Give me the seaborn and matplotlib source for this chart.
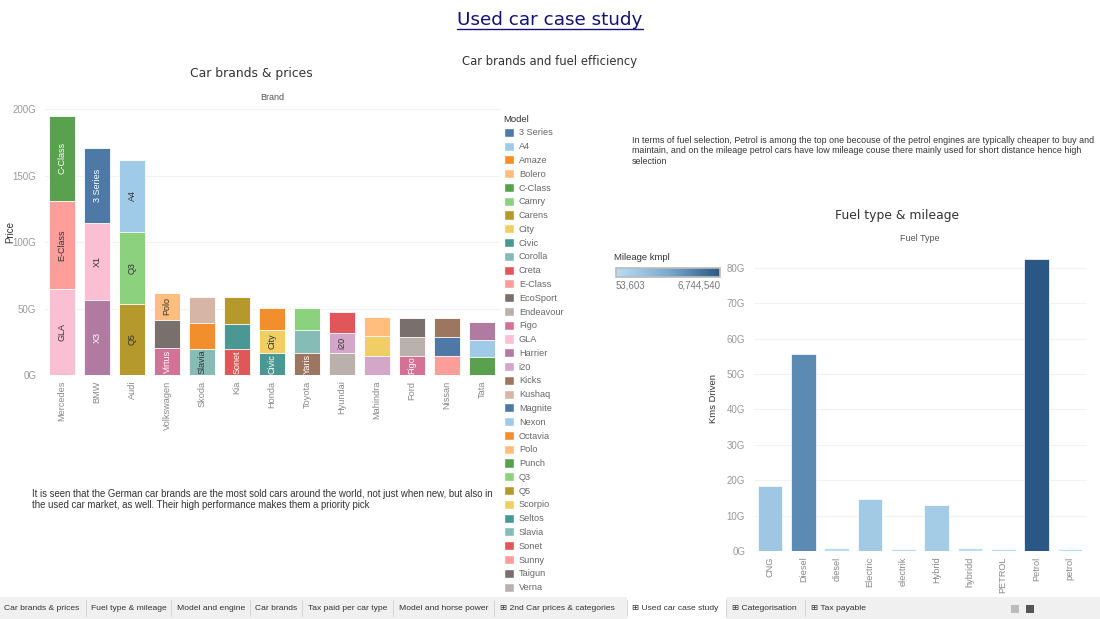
import numpy as np
import pandas as pd
import matplotlib
matplotlib.use("Agg")
import matplotlib.pyplot as plt
import seaborn as sns
from matplotlib.patches import Patch, Rectangle
from matplotlib.lines import Line2D
from matplotlib.colors import LinearSegmentedColormap, Normalize, to_rgb
from matplotlib.colorbar import ColorbarBase

# ---- datos: marcas y precios (en G) ----
brands = ["Mercedes", "BMW", "Audi", "Volkswagen", "Skoda", "Kia", "Honda",
          "Toyota", "Hyundai", "Mahindra", "Ford", "Nissan", "Tata"]
model_bottom = ["GLA", "X3", "Q5", "Virtus", "Slavia", "Sonet", "Civic",
                "Yaris", "Verna", "XUV700", "Figo", "Sunny", "Punch"]
price_bottom = [64.7, 56.6, 53.4, 20.6, 19.5, 19.3, 16.8, 16.8, 16.8, 14.5, 14.5, 14.5, 13.3]
model_middle = ["E-Class", "X1", "Q3", "Taigun", "Octavia", "Seltos", "City",
                "Corolla", "i20", "Scorpio", "Endeavour", "Magnite", "Nexon"]
price_middle = [66.1, 57.4, 54.4, 20.8, 19.3, 19.0, 17.0, 17.0, 15.0, 14.8, 14.3, 14.3, 13.0]
model_top = ["C-Class", "3 Series", "A4", "Polo", "Kushaq", "Carens", "Amaze",
             "Camry", "Creta", "Bolero", "EcoSport", "Kicks", "Harrier"]
price_top = [64.2, 57.0, 53.9, 20.5, 19.6, 20.1, 16.8, 16.3, 15.3, 14.1, 14.3, 14.3, 13.8]
shown_labels = ["GLA", "E-Class", "C-Class", "X3", "X1", "3 Series", "Q5", "Q3", "A4",
                "Virtus", "Polo", "Slavia", "Sonet", "Civic", "City", "Yaris", "i20", "Figo"]

# ---- datos: combustible y kilometraje ----
fuel_types = ["CNG", "Diesel", "diesel", "Electric", "electrik", "Hybrid",
              "hybridd", "PETROL", "Petrol", "petrol"]
kms_driven = [18.4, 55.6, 0.8, 14.6, 0.5, 12.9, 0.8, 0.5, 82.4, 0.5]
mileage = [1500000, 4700000, 110000, 1300000, 60000, 1200000, 90000, 53603, 6744540, 60000]

tableau20 = ["#4e79a7", "#a0cbe8", "#f28e2b", "#ffbe7d", "#59a14f", "#8cd17d",
             "#b6992d", "#f1ce63", "#499894", "#86bcb6", "#e15759", "#ff9d9a",
             "#79706e", "#bab0ac", "#d37295", "#fabfd2", "#b07aa1", "#d4a6c8",
             "#9d7660", "#d7b5a6"]

models = sorted(model_bottom + model_middle + model_top, key=str.lower)
model_color = {m: tableau20[i % 20] for i, m in enumerate(models)}

sns.set_theme(style="white")
plt.rcParams["font.family"] = ["Liberation Sans", "DejaVu Sans"]

fig = plt.figure(figsize=(11, 6.19), dpi=100)
W, H = 1100, 619


def fx(px):
    return px / W


def fy(py):
    return 1 - py / H


# ---- grafico 1: barras apiladas ----
df = pd.DataFrame({"Brand": brands, "b": price_bottom, "m": price_middle, "t": price_top})
df["c1"] = df["b"]
df["c2"] = df["b"] + df["m"]
df["c3"] = df["c2"] + df["t"]

ax1 = fig.add_axes([fx(44.5), fy(375), fx(455), 272.6 / H])
layers = [("c3", model_top), ("c2", model_middle), ("c1", model_bottom)]
for col, mods in layers:
    sns.barplot(data=df, x="Brand", y=col, hue="Brand", order=brands,
                palette=[model_color[m] for m in mods], legend=False, saturation=1,
                width=0.74, ax=ax1, edgecolor="white", linewidth=0.6)

for i, b in enumerate(brands):
    starts = [0, price_bottom[i], price_bottom[i] + price_middle[i]]
    vals = [price_bottom[i], price_middle[i], price_top[i]]
    mods = [model_bottom[i], model_middle[i], model_top[i]]
    for s, v, m in zip(starts, vals, mods):
        if m in shown_labels:
            r, g, bb = to_rgb(model_color[m])
            lum = 0.299 * r + 0.587 * g + 0.114 * bb
            ax1.text(i, s + v / 2, m, rotation=90, ha="center", va="center",
                     fontsize=6.5, color="white" if lum < 0.58 else "#333333")

ax1.set_ylim(0, 205)
ax1.set_yticks([0, 50, 100, 150, 200])
ax1.set_yticklabels(["0G", "50G", "100G", "150G", "200G"])
ax1.tick_params(axis="y", labelsize=7, colors="#999999", length=0, pad=6)
ax1.tick_params(axis="x", labelsize=6.6, colors="#888888", length=0, rotation=90, pad=4)
ax1.set_xlabel("")
ax1.set_ylabel("")
ax1.grid(axis="y", color="#f2f2f2", linewidth=0.8)
ax1.set_axisbelow(True)
for s in ax1.spines.values():
    s.set_visible(False)
ax1.set_title("Brand", fontsize=6.5, color="#555555", pad=2)
fig.text(fx(10), fy(232), "Price", rotation=90, ha="center", va="center",
         fontsize=7, color="#333333")

# leyenda de modelos (el tablero la corta en "Verna")
legend_models = models[:34]
handles = [Patch(facecolor=model_color[m], edgecolor="white") for m in legend_models]
leg = fig.legend(handles, legend_models, loc="upper left", bbox_to_anchor=(fx(500), fy(111)),
                 title="Model", fontsize=6.6, title_fontsize=6.8, frameon=False,
                 handlelength=1.15, handleheight=1.15, labelspacing=0.45,
                 handletextpad=0.5, alignment="left", borderaxespad=0)
for t in leg.get_texts():
    t.set_color("#666666")
leg.get_title().set_color("#333333")

# ---- grafico 2: combustible ----
cmap = LinearSegmentedColormap.from_list("tab_blue", ["#b9ddf1", "#7aaad0", "#2a5783"])
norm = Normalize(vmin=min(mileage), vmax=max(mileage))
fuel_df = pd.DataFrame({"Fuel Type": fuel_types, "Kms Driven": kms_driven, "Mileage": mileage})

ax2 = fig.add_axes([fx(753.5), fy(551), fx(333), 304.4 / H])
sns.barplot(data=fuel_df, x="Fuel Type", y="Kms Driven", hue="Fuel Type",
            order=fuel_types, palette=[cmap(norm(v)) for v in mileage], saturation=1,
            legend=False, width=0.74, ax=ax2, edgecolor="white", linewidth=0.5)
ax2.set_ylim(0, 86)
ax2.set_yticks(range(0, 90, 10))
ax2.set_yticklabels([f"{v}G" for v in range(0, 90, 10)])
ax2.tick_params(axis="y", labelsize=7, colors="#999999", length=0, pad=6)
ax2.tick_params(axis="x", labelsize=6.6, colors="#888888", length=0, rotation=90, pad=4)
ax2.set_xlabel("")
ax2.set_ylabel("Kms Driven", fontsize=6.8, color="#333333", labelpad=6)
ax2.grid(axis="y", color="#f2f2f2", linewidth=0.8)
ax2.set_axisbelow(True)
for s in ax2.spines.values():
    s.set_visible(False)
ax2.set_title("Fuel Type", fontsize=6.5, color="#555555", pad=4)

# barra de color
cax = fig.add_axes([fx(616), fy(277), fx(104), 9 / H])
cb = ColorbarBase(cax, cmap=cmap, norm=norm, orientation="horizontal")
cb.set_ticks([])
cb.outline.set_edgecolor("#bbbbbb")
fig.text(fx(614), fy(258), "Mileage kmpl", fontsize=6.8, color="#333333", va="center")
fig.text(fx(616), fy(285), f"{min(mileage):,}", fontsize=7, color="#777777", va="center")
fig.text(fx(720), fy(285), f"{max(mileage):,}", fontsize=7, color="#777777", va="center", ha="right")

# ---- textos ----
title = fig.text(0.5, fy(20), "Used car case study", ha="center", va="center",
                 fontsize=13.2, color="#12127a", family="DejaVu Sans")
fig.canvas.draw()
bb = title.get_window_extent()
fig.add_artist(Line2D([bb.x0 / W, bb.x1 / W], [fy(29), fy(29)], color="#12127a", lw=1))

fig.text(0.5, fy(62), "Car brands and fuel efficiency", ha="center", va="center",
         fontsize=8.4, color="#333333", family="DejaVu Sans")
fig.text(fx(251), fy(73), "Car brands & prices", ha="center", va="center",
         fontsize=8.9, color="#333333", family="DejaVu Sans")
fig.text(fx(897), fy(215), "Fuel type & mileage", ha="center", va="center",
         fontsize=8.9, color="#333333", family="DejaVu Sans")

fig.text(fx(632), fy(136),
         "In terms of fuel selection, Petrol is among the top one becouse of the petrol engines are typically cheaper to buy and\n"
         "maintain, and on the mileage petrol cars have low mileage couse there mainly used for short distance hence high\n"
         "selection", fontsize=6.4, color="#333333", va="top", linespacing=1.2)
fig.text(fx(32), fy(489),
         "It is seen that the German car brands are the most sold cars around the world, not just when new, but also in\n"
         "the used car market, as well. Their high performance makes them a priority pick",
         fontsize=6.9, color="#333333", va="top", linespacing=1.1)

# ---- barra de pestañas ----
fig.add_artist(Rectangle((0, 0), 1, fy(597), transform=fig.transFigure,
                         facecolor="#f0f0f0", edgecolor="none", zorder=20))
fig.add_artist(Rectangle((fx(627), 0), fx(99), fy(597), transform=fig.transFigure,
                         facecolor="white", edgecolor="none", zorder=21))
tabs = ["Car brands & prices", "Fuel type & mileage", "Model and engine", "Car brands",
        "Tax paid per car type", "Model and horse power", "\u229e 2nd Car prices & categories",
        "\u229e Used car case study", "\u229e Categorisation", "\u229e Tax payable"]
tab_x = [4, 91, 177, 255, 308, 399, 500, 632, 732, 811]
seps = [86, 171, 250, 302, 393, 494, 627, 726, 805]
for t, x in zip(tabs, tab_x):
    fig.text(fx(x), fy(608), t, fontsize=6.1, color="#333333", va="center",
             zorder=22, family=["Liberation Sans", "DejaVu Sans"])
for x in seps:
    fig.add_artist(Line2D([fx(x), fx(x)], [fy(600), fy(616)], color="#d0d0d0", lw=0.6, zorder=22))
fig.add_artist(Rectangle((fx(1011), fy(613)), fx(8), 8 / H, transform=fig.transFigure,
                         facecolor="#bbbbbb", edgecolor="none", zorder=22))
fig.add_artist(Rectangle((fx(1026), fy(613)), fx(8), 8 / H, transform=fig.transFigure,
                         facecolor="#555555", edgecolor="none", zorder=22))

fig.savefig("out.png", dpi=100)
